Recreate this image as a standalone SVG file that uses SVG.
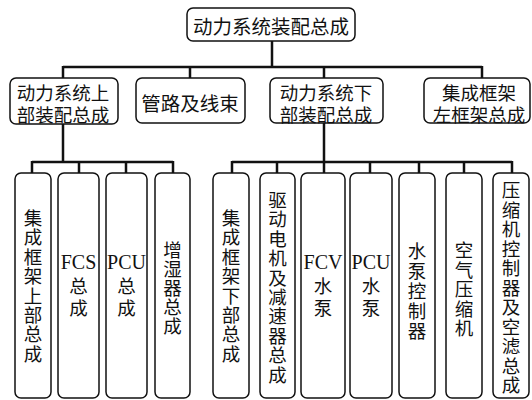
<svg xmlns="http://www.w3.org/2000/svg" width="532" height="400" viewBox="0 0 532 400">
<style>
.box{fill:#fff;stroke:#111;stroke-width:1.5}
.cn{font-family:"Noto Sans CJK SC","Noto Sans",sans-serif;font-size:18.5px;fill:#111;text-anchor:middle;dominant-baseline:central}
.lt{font-family:"Liberation Serif","Times New Roman",serif;font-size:20px;fill:#111;text-anchor:middle;dominant-baseline:central}
.ln{fill:none;stroke:#111;stroke-width:2.5}
</style>
<rect width="532" height="400" fill="#fff"/>
<g id="connectors">
<path class="ln" d="M272 41V67M63 67H482M63 66V78M190 66V78M324 66V78M482 66V78"/>
<path class="ln" d="M63 124V162M32 162H173M32 161V173M79 161V173M126 161V173M173 161V173"/>
<path class="ln" d="M324 123V162M232 162H512M232 161V173M277 161V173M324 161V173M370 161V173M419 161V173M464 161V173M512 161V173"/>
</g>
<g id="root">
<rect class="box" x="187" y="8" width="168" height="33" rx="6"/>
<text class="cn" x="271" y="25.5" style="font-size:19.5px">动力系统装配总成</text>
</g>
<g id="upper">
<rect class="box" x="10" y="78" width="108" height="46" rx="6"/>
<text class="cn" x="63" y="92" style="font-size:18.5px">动力系统上</text>
<text class="cn" x="63" y="114" style="font-size:18.5px">部装配总成</text>
</g>
<g id="pipes">
<rect class="box" x="136" y="78" width="109" height="45" rx="6"/>
<text class="cn" x="190" y="102" style="font-size:19.5px">管路及线束</text>
</g>
<g id="lower">
<rect class="box" x="270" y="78" width="113" height="45" rx="6"/>
<text class="cn" x="326" y="92" style="font-size:18.5px">动力系统下</text>
<text class="cn" x="326" y="114" style="font-size:18.5px">部装配总成</text>
</g>
<g id="frame">
<rect class="box" x="424" y="78" width="106" height="45" rx="6"/>
<text class="cn" x="479" y="92" style="font-size:18.5px">集成框架</text>
<text class="cn" x="479" y="114" style="font-size:18.5px">左框架总成</text>
</g>
<g id="b1">
<rect class="box" x="15" y="173" width="36" height="225" rx="6"/>
<text class="cn" x="33"><tspan x="33" y="217">集</tspan><tspan x="33" y="236.4">成</tspan><tspan x="33" y="255.8">框</tspan><tspan x="33" y="275.2">架</tspan><tspan x="33" y="294.6">上</tspan><tspan x="33" y="314">部</tspan><tspan x="33" y="333.4">总</tspan><tspan x="33" y="352.8">成</tspan></text>
</g>
<g id="b2">
<rect class="box" x="58" y="173" width="41" height="225" rx="6"/>
<text class="lt" x="78.5" y="262">FCS</text>
<text class="cn" x="78.5"><tspan x="78.5" y="285">总</tspan><tspan x="78.5" y="307">成</tspan></text>
</g>
<g id="b3">
<rect class="box" x="106" y="173" width="41" height="225" rx="6"/>
<text class="lt" x="126.5" y="262">PCU</text>
<text class="cn" x="126.5"><tspan x="126.5" y="285">总</tspan><tspan x="126.5" y="307">成</tspan></text>
</g>
<g id="b4">
<rect class="box" x="155" y="173" width="35" height="225" rx="6"/>
<text class="cn" x="172.5"><tspan x="172.5" y="249">增</tspan><tspan x="172.5" y="268">湿</tspan><tspan x="172.5" y="287">器</tspan><tspan x="172.5" y="306">总</tspan><tspan x="172.5" y="325">成</tspan></text>
</g>
<g id="b5">
<rect class="box" x="213" y="173" width="36" height="225" rx="6"/>
<text class="cn" x="231"><tspan x="231" y="217">集</tspan><tspan x="231" y="236.4">成</tspan><tspan x="231" y="255.8">框</tspan><tspan x="231" y="275.2">架</tspan><tspan x="231" y="294.6">下</tspan><tspan x="231" y="314">部</tspan><tspan x="231" y="333.4">总</tspan><tspan x="231" y="352.8">成</tspan></text>
</g>
<g id="b6">
<rect class="box" x="260" y="173" width="35" height="225" rx="6"/>
<text class="cn" x="277.5"><tspan x="277.5" y="199">驱</tspan><tspan x="277.5" y="218.4">动</tspan><tspan x="277.5" y="237.8">电</tspan><tspan x="277.5" y="257.2">机</tspan><tspan x="277.5" y="276.6">及</tspan><tspan x="277.5" y="296">减</tspan><tspan x="277.5" y="315.4">速</tspan><tspan x="277.5" y="334.8">器</tspan><tspan x="277.5" y="354.2">总</tspan><tspan x="277.5" y="373.6">成</tspan></text>
</g>
<g id="b7">
<rect class="box" x="301" y="173" width="44" height="225" rx="6"/>
<text class="lt" x="323" y="262">FCV</text>
<text class="cn" x="323"><tspan x="323" y="285">水</tspan><tspan x="323" y="307">泵</tspan></text>
</g>
<g id="b8">
<rect class="box" x="350" y="173" width="42" height="225" rx="6"/>
<text class="lt" x="371" y="262">PCU</text>
<text class="cn" x="371"><tspan x="371" y="285">水</tspan><tspan x="371" y="307">泵</tspan></text>
</g>
<g id="b9">
<rect class="box" x="399" y="173" width="36" height="225" rx="6"/>
<text class="cn" x="417"><tspan x="417" y="250">水</tspan><tspan x="417" y="270">泵</tspan><tspan x="417" y="290">控</tspan><tspan x="417" y="310">制</tspan><tspan x="417" y="330">器</tspan></text>
</g>
<g id="b10">
<rect class="box" x="446" y="173" width="36" height="225" rx="6"/>
<text class="cn" x="464"><tspan x="464" y="249">空</tspan><tspan x="464" y="268.5">气</tspan><tspan x="464" y="288">压</tspan><tspan x="464" y="307.5">缩</tspan><tspan x="464" y="327">机</tspan></text>
</g>
<g id="b11">
<rect class="box" x="493" y="173" width="36" height="225" rx="6"/>
<text class="cn" x="511"><tspan x="511" y="189">压</tspan><tspan x="511" y="208.5">缩</tspan><tspan x="511" y="228">机</tspan><tspan x="511" y="247.5">控</tspan><tspan x="511" y="267">制</tspan><tspan x="511" y="286.5">器</tspan><tspan x="511" y="306">及</tspan><tspan x="511" y="325.5">空</tspan><tspan x="511" y="345">滤</tspan><tspan x="511" y="364.5">总</tspan><tspan x="511" y="384">成</tspan></text>
</g>
</svg>
